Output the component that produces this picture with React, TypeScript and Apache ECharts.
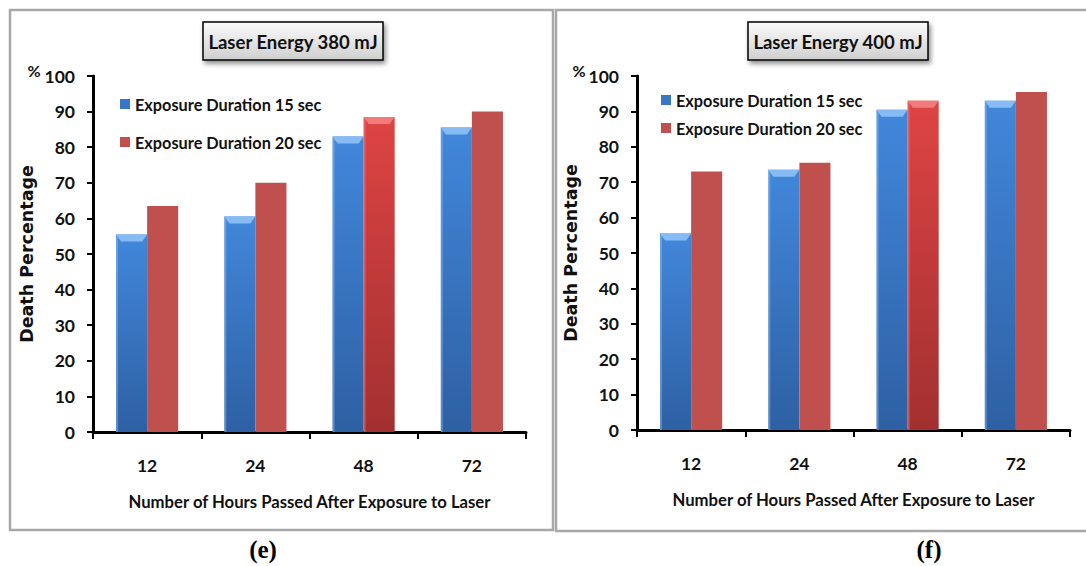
import React, { useEffect, useRef } from "react";
import * as echarts from "echarts";

const categories = ["12", "24", "48", "72"];
const leftBlue = [55.5, 60.5, 83, 85.5];
const leftRed = [63.5, 70, 88.5, 90];
const rightBlue = [55.5, 73.5, 90.5, 93];
const rightRed = [73, 75.5, 93, 95.5];
const seriesNames = ["Exposure Duration 15 sec", "Exposure Duration 20 sec"];
const titles = ["Laser Energy 380 mJ", "Laser Energy 400 mJ"];
const captions = ["(e)", "(f)"];
const yName = "Death Percentage";
const xName = "Number of Hours Passed After Exposure to Laser";
const highlightIndex = 2;

const FONT = "Lato, 'Open Sans', sans-serif";

const blueGrad = () =>
  new echarts.graphic.LinearGradient(0, 0, 0, 1, [
    { offset: 0, color: "#4287db" },
    { offset: 1, color: "#2e60a3" },
  ]);
const redHiGrad = () =>
  new echarts.graphic.LinearGradient(0, 0, 0, 1, [
    { offset: 0, color: "#de4444" },
    { offset: 1, color: "#a23030" },
  ]);
const RED_FLAT = "#c0504d";

function makeRender(side: "left" | "right") {
  return (params: any, api: any) => {
    const ci = api.value(0);
    const v = api.value(1);
    const top = api.coord([ci, v]);
    const base = api.coord([ci, 0]);
    const band = api.size([1, 0])[0];
    const bw = band * 0.287;
    const x = side === "left" ? top[0] - bw : top[0];
    const y = top[1];
    const h = base[1] - top[1];
    const isBlue = side === "left";
    const bevel = isBlue || ci === highlightIndex;
    if (!bevel) {
      return {
        type: "group",
        children: [
          {
            type: "rect",
            shape: { x, y, width: bw, height: h },
            style: { fill: RED_FLAT },
          },
        ],
      };
    }
    const fill = isBlue ? blueGrad() : redHiGrad();
    const light = isBlue ? "#86bbf3" : "#f27a7a";
    const sideLight = isBlue ? "rgba(140,190,245,0.45)" : "rgba(245,130,130,0.45)";
    const bv = 7;
    const ins = 5;
    return {
      type: "group",
      children: [
        {
          type: "rect",
          shape: { x, y, width: bw, height: h },
          style: { fill },
        },
        {
          type: "polygon",
          shape: {
            points: [
              [x, y],
              [x + bw, y],
              [x + bw - ins, y + bv],
              [x + ins, y + bv],
            ],
          },
          style: { fill: light },
        },
        {
          type: "rect",
          shape: { x, y: y + 1, width: 2, height: h - 1 },
          style: { fill: sideLight },
        },
      ],
    };
  };
}

function buildSeries(blue: number[], red: number[], gi: number) {
  return [
    {
      name: seriesNames[0],
      type: "custom",
      xAxisIndex: gi,
      yAxisIndex: gi,
      renderItem: makeRender("left"),
      encode: { x: 0, y: 1 },
      itemStyle: { color: "#3a74c4" },
      data: blue.map((v, i) => [i, v]),
    },
    {
      name: seriesNames[1],
      type: "custom",
      xAxisIndex: gi,
      yAxisIndex: gi,
      renderItem: makeRender("right"),
      encode: { x: 0, y: 1 },
      itemStyle: { color: RED_FLAT },
      data: red.map((v, i) => [i, v]),
    },
  ];
}

function xAxisCfg(gi: number) {
  return {
    type: "category",
    gridIndex: gi,
    data: categories,
    boundaryGap: true,
    axisLine: { lineStyle: { color: "#000", width: 3 } },
    axisTick: { show: true, length: 7, lineStyle: { color: "#000", width: 2 } },
    axisLabel: {
      margin: 24,
      fontFamily: FONT,
      fontSize: 17.5,
      fontWeight: "bold",
      color: "#111",
    },
    name: xName,
    nameLocation: "middle",
    nameGap: 61,
    nameTextStyle: {
      fontFamily: FONT,
      fontSize: 16.7,
      fontWeight: "bold",
      color: "#111",
    },
    splitLine: { show: false },
  };
}

function yAxisCfg(gi: number) {
  return {
    type: "value",
    gridIndex: gi,
    min: 0,
    max: 100,
    interval: 10,
    axisLine: { show: true, lineStyle: { color: "#000", width: 3 } },
    axisTick: { show: true, length: 6, lineStyle: { color: "#000", width: 2 } },
    axisLabel: {
      margin: 18,
      fontFamily: FONT,
      fontSize: 17.5,
      fontWeight: "bold",
      color: "#111",
    },
    splitLine: { show: false },
    name: yName,
    nameLocation: "middle",
    nameRotate: 90,
    nameGap: 57,
    nameTextStyle: {
      fontFamily: "'DejaVu Sans', Verdana, sans-serif",
      fontSize: 17.5,
      fontWeight: "bold",
      color: "#111",
    },
  };
}

function titleBox(cx: number, text: string) {
  const w = 180;
  const h = 38;
  return {
    type: "group",
    children: [
      {
        type: "rect",
        shape: { x: cx - w / 2, y: 22, width: w, height: h },
        style: {
          fill: new echarts.graphic.LinearGradient(0, 0, 0, 1, [
            { offset: 0, color: "#fbfbfb" },
            { offset: 1, color: "#cfcfcf" },
          ]),
          stroke: "#000",
          lineWidth: 1.5,
          shadowBlur: 5,
          shadowOffsetX: 2,
          shadowOffsetY: 3,
          shadowColor: "rgba(0,0,0,0.45)",
        },
      },
      {
        type: "text",
        x: cx,
        y: 42,
        style: {
          text,
          fontFamily: FONT,
          fontSize: 18.5,
          fontWeight: "bold",
          fill: "#111",
          align: "center",
          verticalAlign: "middle",
        },
      },
    ],
  };
}

export default function App() {
  const ref = useRef<HTMLDivElement>(null);
  useEffect(() => {
    if (!ref.current) return;
    const chart = echarts.init(ref.current, undefined, { renderer: "svg" });
    const legendText = {
      fontFamily: FONT,
      fontSize: 16.3,
      fontWeight: "bold",
      color: "#111",
    };
    chart.setOption({
      animation: false,
      backgroundColor: "#fff",
      grid: [
        { left: 93, top: 76, width: 433, height: 356 },
        { left: 637, top: 76, width: 433, height: 354 },
      ],
      xAxis: [xAxisCfg(0), xAxisCfg(1)],
      yAxis: [yAxisCfg(0), yAxisCfg(1)],
      legend: [
        {
          left: 115,
          top: 91,
          orient: "vertical",
          itemWidth: 10,
          itemHeight: 10,
          itemGap: 22,
          icon: "rect",
          textStyle: legendText,
          data: seriesNames,
          selectedMode: false,
        },
        {
          left: 656,
          top: 87,
          orient: "vertical",
          itemWidth: 10,
          itemHeight: 10,
          itemGap: 12,
          icon: "rect",
          textStyle: legendText,
          data: seriesNames,
          selectedMode: false,
        },
      ],
      series: [...buildSeries(leftBlue, leftRed, 0), ...buildSeries(rightBlue, rightRed, 1)],
      graphic: [
        {
          type: "rect",
          z: -10,
          shape: { x: 10, y: 10, width: 543, height: 520 },
          style: { fill: "none", stroke: "#a8a8a8", lineWidth: 2.5 },
        },
        {
          type: "rect",
          z: -10,
          shape: { x: 556, y: 10, width: 540, height: 521 },
          style: { fill: "none", stroke: "#a8a8a8", lineWidth: 2.5 },
        },
        titleBox(293, titles[0]),
        titleBox(838, titles[1]),
        {
          type: "text",
          x: 34,
          y: 70,
          style: {
            text: "%",
            fontFamily: FONT,
            fontSize: 16,
            fontWeight: "bold",
            fill: "#111",
            align: "center",
            verticalAlign: "middle",
          },
        },
        {
          type: "text",
          x: 579,
          y: 70,
          style: {
            text: "%",
            fontFamily: FONT,
            fontSize: 16,
            fontWeight: "bold",
            fill: "#111",
            align: "center",
            verticalAlign: "middle",
          },
        },
        {
          type: "text",
          x: 263,
          y: 549,
          style: {
            text: captions[0],
            fontFamily: "'Liberation Serif', 'Times New Roman', serif",
            fontSize: 25,
            fontWeight: "bold",
            fill: "#000",
            align: "center",
            verticalAlign: "middle",
          },
        },
        {
          type: "text",
          x: 929,
          y: 549,
          style: {
            text: captions[1],
            fontFamily: "'Liberation Serif', 'Times New Roman', serif",
            fontSize: 25,
            fontWeight: "bold",
            fill: "#000",
            align: "center",
            verticalAlign: "middle",
          },
        },
      ],
    });
    return () => chart.dispose();
  }, []);
  return (
    <div
      ref={ref}
      style={{ position: "fixed", left: 0, top: 0, width: 1086, height: 566 }}
    />
  );
}
